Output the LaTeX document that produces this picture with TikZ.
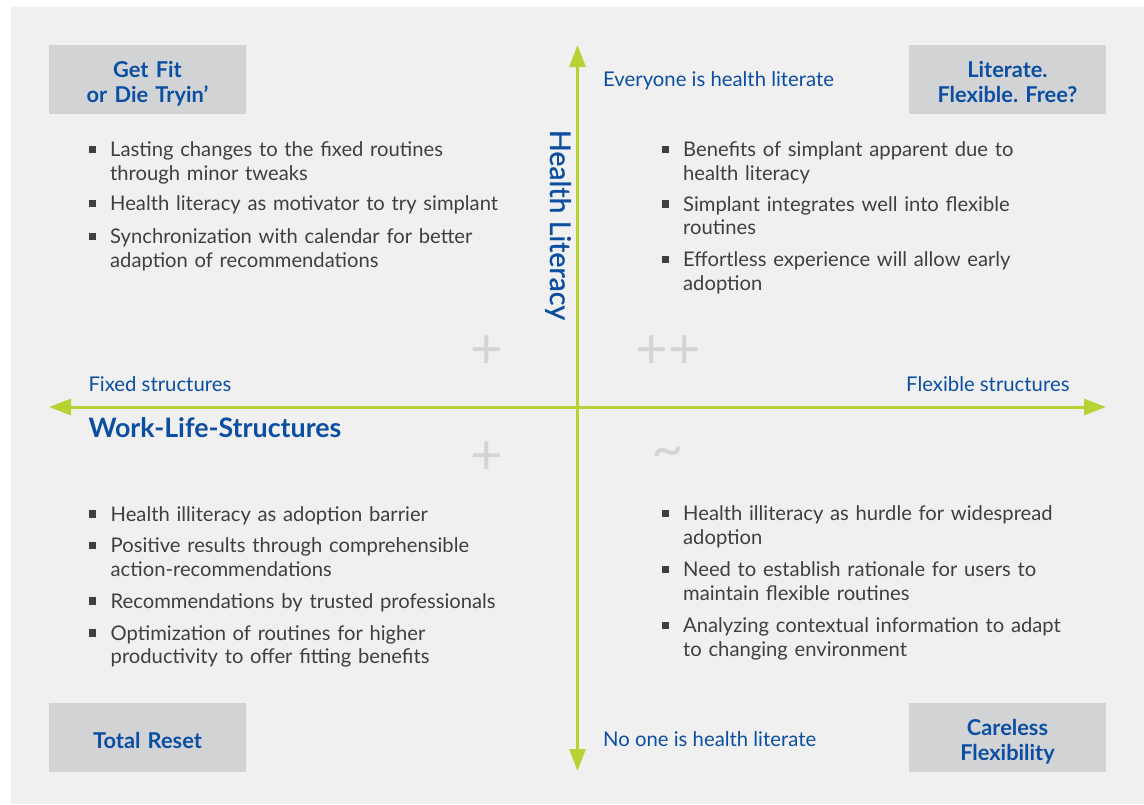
\documentclass[tikz,border=0pt]{standalone}
\usepackage{fontspec}
\setmainfont{Lato}
\newfontfamily\medfont{Lato}[FakeBold=1]
\usetikzlibrary{arrows.meta}
\definecolor{bg}{HTML}{F0F0F0}
\definecolor{boxg}{HTML}{D2D3D5}
\definecolor{hblue}{HTML}{0B4EA2}
\definecolor{lime}{HTML}{B5D334}
\definecolor{txt}{HTML}{3F3F3F}
\definecolor{signg}{HTML}{D3D4D6}
\frenchspacing
\begin{document}
\begin{tikzpicture}[x=1pt,y=-1pt,
 quadbox/.style={fill=boxg, inner sep=0, minimum width=197pt, minimum height=69pt},
 boxtitle/.style={text=hblue, font=\fontsize{21.8}{25.4}\selectfont\bfseries, text width=190pt, align=center, anchor=base, inner sep=0},
 item/.style={text=txt, font=\fontsize{20.2}{23.5}\selectfont, text width=440pt, align=left, anchor=base west, inner sep=0},
 bul/.style={fill=txt, inner sep=0, minimum size=7.3pt},
 axlabel/.style={text=hblue, font=\fontsize{20.3}{23}\selectfont, anchor=base west, inner sep=0},
 axis/.style={draw=lime, line width=3pt, {Triangle[length=22pt,width=16pt]}-{Triangle[length=22pt,width=16pt]}},
 sign/.style={text=signg, font=\fontsize{56}{60}\selectfont, inner sep=0},
]
\useasboundingbox (0,0) rectangle (1144,804);
\fill[bg] (11,7) rectangle (1144,804);

% corner boxes
\node[quadbox] (tlbox) at (147.5,79.3) {};
\node[quadbox] (trbox) at (1007.5,79.3) {};
\node[quadbox] (blbox) at (147.5,737.4) {};
\node[quadbox] (brbox) at (1007.5,737.4) {};
\node[boxtitle] (tlt) at (147.5,77.3) {Get Fit\\or Die Tryin’};
\node[boxtitle] (trt) at (1007.5,77.3) {Literate.\\Flexible. Free?};
\node[boxtitle] (blt) at (147.5,748.3) {Total Reset};
\node[boxtitle] (brt) at (1007.5,735) {Careless\\Flexibility};

% axes
\coordinate (N) at (577.5,45);
\coordinate (S) at (577.5,771);
\coordinate (W) at (49,407);
\coordinate (E) at (1106,407);
\draw[axis] (W) -- (E);
\draw[axis] (S) -- (N);

% axis labels
\node[axlabel] (top) at (603,86.7) {Everyone is health literate};
\node[axlabel] (bottom) at (603,746.7) {No one is health literate};
\node[axlabel] (left) at (88.3,391.7) {Fixed structures};
\node[axlabel] (right) at (906,391.7) {Flexible structures};
\node[text=hblue, font=\fontsize{26.8}{29}\selectfont\bfseries, anchor=base west, inner sep=0] (wls) at (88.3,437) {Work-Life-Structures};
\node[text=hblue, font=\fontsize{28.5}{31}\medfont, anchor=base, rotate=-90, inner sep=0] (hl) at (550,225) {Health Literacy};

% signs
\node[sign] (s1) at (487,352.5) {+};
\node[sign] (s2) at (668,352.5) {++};
\node[sign] (s3) at (487,458.3) {+};
\node[sign] (s4) at (668,458) {\textasciitilde};

% top-left items
\node[item] (tl1) at (110,156.5) {Lasting changes to the fixed routines\\through minor tweaks};
\node[item] (tl2) at (110,210.5) {Health literacy as motivator to try simplant};
\node[item] (tl3) at (110,243.5) {Synchronization with calendar for better\\adaption of recommendations};
% top-right items
\node[item] (tr1) at (683,156.5) {Benefits of simplant apparent due to\\health literacy};
\node[item] (tr2) at (683,211) {Simplant integrates well into flexible\\routines};
\node[item] (tr3) at (683,266.7) {Effortless experience will allow early\\adoption};
% bottom-left items
\node[item] (bl1) at (110.5,521) {Health illiteracy as adoption barrier};
\node[item] (bl2) at (110.5,552.7) {Positive results through comprehensible\\action-recommendations};
\node[item] (bl3) at (110.5,608) {Recommendations by trusted professionals};
\node[item] (bl4) at (110.5,640) {Optimization of routines for higher\\productivity to offer fitting benefits};
% bottom-right items
\node[item] (br1) at (683,520.5) {Health illiteracy as hurdle for widespread\\adoption};
\node[item] (br2) at (683,576.5) {Need to establish rationale for users to\\maintain flexible routines};
\node[item] (br3) at (683,632.5) {Analyzing contextual information to adapt\\to changing environment};

% bullets
\foreach \n in {tl1,tl2,tl3,tr1,tr2,tr3,bl1,bl2,bl3,bl4,br1,br2,br3}
  \node[bul] (\n b) at ([xshift=-17.8pt,yshift=7pt]\n.base west) {};
\end{tikzpicture}
\end{document}
